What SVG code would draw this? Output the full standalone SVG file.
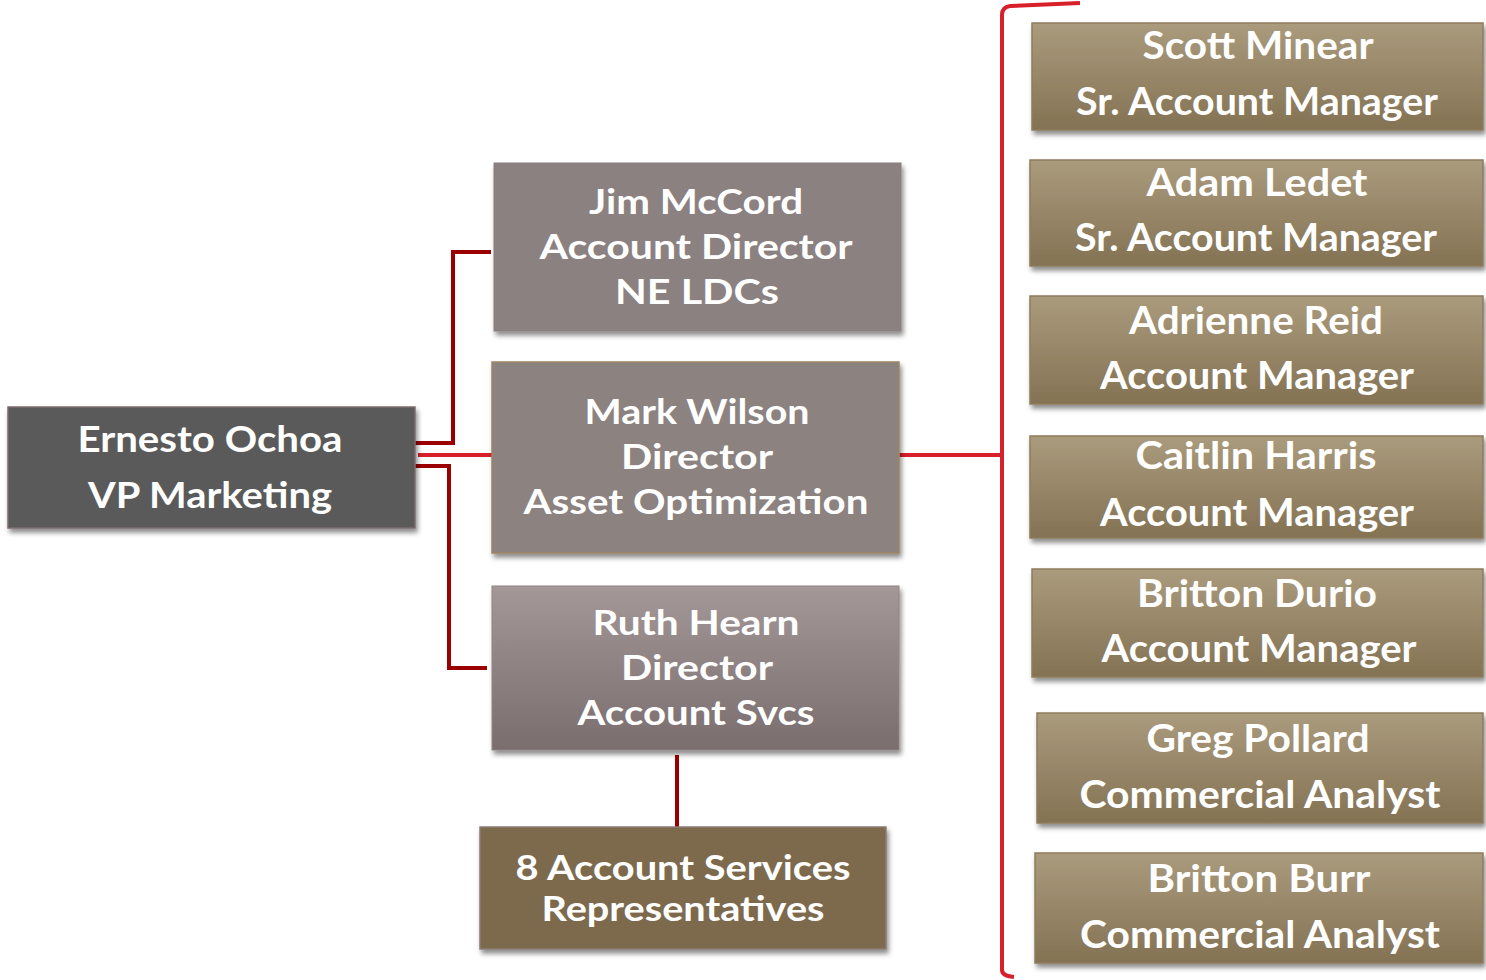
<svg xmlns="http://www.w3.org/2000/svg" width="1486" height="980" viewBox="0 0 1486 980">
<defs>
<filter id="sh" x="-5%" y="-10%" width="115%" height="130%">
<feDropShadow dx="2" dy="4" stdDeviation="2.5" flood-color="#000" flood-opacity="0.45"/>
</filter>
<linearGradient id="tan" x1="0" y1="0" x2="0" y2="1">
<stop offset="0" stop-color="#ab9b7d"/>
<stop offset="1" stop-color="#837253"/>
</linearGradient>
<linearGradient id="ruth" x1="0" y1="0" x2="0" y2="1">
<stop offset="0" stop-color="#a39797"/>
<stop offset="1" stop-color="#7a6d6d"/>
</linearGradient>
</defs>
<style>
text{font-family:Lato,"Open Sans","Liberation Sans",sans-serif;font-weight:700;fill:#fff;text-anchor:middle}
.l{font-size:36px}
.m{font-size:35px}
.r{font-size:38px}
.tan{fill:url(#tan);stroke:#8e7c5c;stroke-width:1.5}
.dk{stroke:#9b0000;stroke-width:4;fill:none}
.br{stroke:#d8202b;stroke-width:4;fill:none}
</style>
<rect width="1486" height="980" fill="#fff"/>
<g id="connectors">
<path class="dk" d="M415 443 H453 V252 H491"/>
<path class="dk" d="M415 466 H449 V668 H487"/>
<path class="br" d="M418 455 H493"/>
<path class="br" d="M899 455 H1002"/>
<path class="dk" d="M677 755 V827"/>
<path class="br" d="M1080 3 L1010 6 Q1002 7 1002 15 V970 Q1002 976 1014 977"/>
</g>
<g id="ernesto">
<rect x="8" y="407" width="407" height="121" fill="#5a5a5a" stroke="#7c6d6d" stroke-width="1.5" filter="url(#sh)"/>
<text class="l" x="210" y="452" textLength="265" lengthAdjust="spacingAndGlyphs">Ernesto Ochoa</text>
<text class="l" x="210" y="508" textLength="244" lengthAdjust="spacingAndGlyphs">VP Marketing</text>
</g>
<g id="jim">
<rect x="494" y="163" width="407" height="168" fill="#8c8181" stroke="#8a7f7f" stroke-width="1" filter="url(#sh)"/>
<text class="m" x="696" y="214" textLength="214" lengthAdjust="spacingAndGlyphs">Jim McCord</text>
<text class="m" x="696" y="259" textLength="313" lengthAdjust="spacingAndGlyphs">Account Director</text>
<text class="m" x="697" y="304" textLength="164" lengthAdjust="spacingAndGlyphs">NE LDCs</text>
</g>
<g id="mark">
<rect x="492" y="362" width="407" height="191" fill="#8c8280" stroke="#9c8562" stroke-width="1.5" filter="url(#sh)"/>
<text class="m" x="697" y="424" textLength="225" lengthAdjust="spacingAndGlyphs">Mark Wilson</text>
<text class="m" x="697" y="469" textLength="152" lengthAdjust="spacingAndGlyphs">Director</text>
<text class="m" x="696" y="514" textLength="345" lengthAdjust="spacingAndGlyphs">Asset Optimization</text>
</g>
<g id="ruth">
<rect x="492" y="586" width="407" height="164" fill="url(#ruth)" stroke="#8f8383" stroke-width="1" filter="url(#sh)"/>
<text class="m" x="696" y="635" textLength="207" lengthAdjust="spacingAndGlyphs">Ruth Hearn</text>
<text class="m" x="697" y="680" textLength="152" lengthAdjust="spacingAndGlyphs">Director</text>
<text class="m" x="696" y="725" textLength="237" lengthAdjust="spacingAndGlyphs">Account Svcs</text>
</g>
<g id="reps">
<rect x="480" y="827" width="406" height="122" fill="#7d6b4e" stroke="#8a7c76" stroke-width="1.5" filter="url(#sh)"/>
<text class="m" x="683" y="880" textLength="335" lengthAdjust="spacingAndGlyphs">8 Account Services</text>
<text class="m" x="683" y="921" textLength="283" lengthAdjust="spacingAndGlyphs">Representatives</text>
</g>
<g id="scott">
<rect class="tan" x="1032" y="23" width="451" height="107" filter="url(#sh)"/>
<text class="r" x="1258" y="59" textLength="231" lengthAdjust="spacingAndGlyphs">Scott Minear</text>
<text class="r" x="1257" y="115" textLength="362" lengthAdjust="spacingAndGlyphs">Sr. Account Manager</text>
</g>
<g id="adam">
<rect class="tan" x="1030" y="160" width="453" height="106" filter="url(#sh)"/>
<text class="r" x="1257" y="196" textLength="221" lengthAdjust="spacingAndGlyphs">Adam Ledet</text>
<text class="r" x="1256" y="251" textLength="362" lengthAdjust="spacingAndGlyphs">Sr. Account Manager</text>
</g>
<g id="adrienne">
<rect class="tan" x="1030" y="296" width="453" height="108" filter="url(#sh)"/>
<text class="r" x="1256" y="334" textLength="254" lengthAdjust="spacingAndGlyphs">Adrienne Reid</text>
<text class="r" x="1257" y="389" textLength="314" lengthAdjust="spacingAndGlyphs">Account Manager</text>
</g>
<g id="caitlin">
<rect class="tan" x="1030" y="436" width="453" height="102" filter="url(#sh)"/>
<text class="r" x="1256" y="469" textLength="241" lengthAdjust="spacingAndGlyphs">Caitlin Harris</text>
<text class="r" x="1257" y="526" textLength="314" lengthAdjust="spacingAndGlyphs">Account Manager</text>
</g>
<g id="durio">
<rect class="tan" x="1032" y="569" width="451" height="108" filter="url(#sh)"/>
<text class="r" x="1257" y="607" textLength="240" lengthAdjust="spacingAndGlyphs">Britton Durio</text>
<text class="r" x="1259" y="662" textLength="315" lengthAdjust="spacingAndGlyphs">Account Manager</text>
</g>
<g id="greg">
<rect class="tan" x="1037" y="713" width="446" height="110" filter="url(#sh)"/>
<text class="r" x="1258" y="752" textLength="223" lengthAdjust="spacingAndGlyphs">Greg Pollard</text>
<text class="r" x="1260" y="808" textLength="361" lengthAdjust="spacingAndGlyphs">Commercial Analyst</text>
</g>
<g id="burr">
<rect class="tan" x="1035" y="853" width="448" height="110" filter="url(#sh)"/>
<text class="r" x="1259" y="892" textLength="223" lengthAdjust="spacingAndGlyphs">Britton Burr</text>
<text class="r" x="1260" y="948" textLength="360" lengthAdjust="spacingAndGlyphs">Commercial Analyst</text>
</g>
</svg>
